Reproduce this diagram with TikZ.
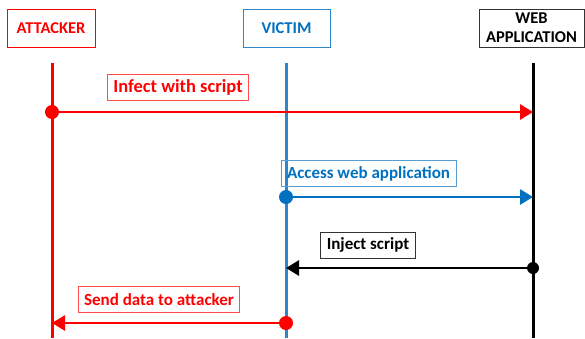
\documentclass[tikz,border=0pt]{standalone}
\usepackage{fontspec}
\setmainfont{Carlito}
\usetikzlibrary{arrows.meta, positioning}

\definecolor{vblue}{HTML}{0070C0}
\definecolor{vline}{HTML}{2E86C8}

\begin{document}
\begin{tikzpicture}[x=1pt, y=-1pt,
    actor/.style={draw=#1, line width=0.9pt, minimum height=38pt, align=center,
        inner sep=1pt, font=\bfseries\fontsize{16.5}{19}\selectfont},
    label/.style={draw=#1, line width=0.9pt, inner xsep=6pt, inner ysep=2pt,
        minimum height=26pt, font=\bfseries\fontsize{17}{19}\selectfont},
    life/.style={line width=3pt},
    call/.style={line width=2.8pt, -{Triangle[length=13pt, width=15pt]}},
    dot/.style={circle, fill=#1, inner sep=0pt, minimum size=14pt}]
    \useasboundingbox (0,0) rectangle (585,338);

    % actors
    \node[actor=red, text=red, minimum width=88pt] (attacker) at (51,28) {ATTACKER};
    \node[actor=vline, text=vblue, minimum width=87pt] (victim) at (286.5,28) {VICTIM};
    \node[actor=black!80, text=black, minimum width=105pt] (webapp) at (531.5,28) {WEB\\APPLICATION};

    % lifelines
    \coordinate (att_top) at (52,63);   \coordinate (att_bot) at (52,338);
    \coordinate (vic_top) at (286,63);  \coordinate (vic_bot) at (286,338);
    \coordinate (web_top) at (533,63);  \coordinate (web_bot) at (533,338);
    \draw[life, red] (att_top) -- (att_bot);
    \draw[life, vline] (vic_top) -- (vic_bot);
    \draw[life, black] (web_top) -- (web_bot);

    % messages
    \node[dot=red] (infect_s) at (52,112) {};
    \coordinate (infect_e) at (533,112);
    \node[dot=vblue] (access_s) at (286,197) {};
    \coordinate (access_e) at (533,197);
    \node[dot=black, minimum size=12pt] (inject_s) at (533,268) {};
    \coordinate (inject_e) at (286,268);
    \node[dot=red] (send_s) at (286,323) {};
    \coordinate (send_e) at (52,323);

    \draw[call, red] (infect_s.center) -- (infect_e);
    \draw[call, vblue] (access_s.center) -- (access_e);
    \draw[call, black] (inject_s.center) -- (inject_e);
    \draw[call, red] (send_s.center) -- (send_e);

    % labels
    \node[label=red!70, text=red, font=\bfseries\fontsize{18.5}{20}\selectfont] (infect_l) at (178,87) {Infect with script};
    \node[label=vline!80, text=vblue] (access_l) at (368.5,173.5) {Access web application};
    \node[label=black!80, text=black] (inject_l) at (368,245) {Inject script};
    \node[label=red!70, text=red] (send_l) at (159,299.5) {Send data to attacker};
\end{tikzpicture}
\end{document}
